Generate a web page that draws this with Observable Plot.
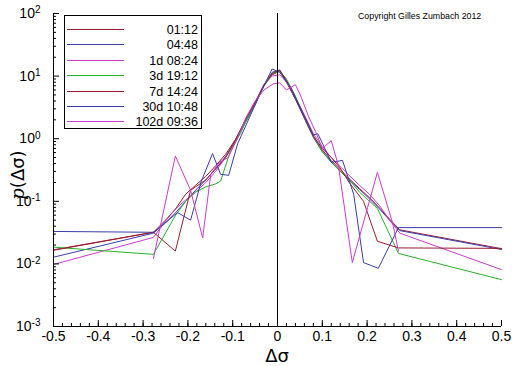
<!DOCTYPE html>
<html><head><meta charset="utf-8">
<script src="https://cdn.jsdelivr.net/npm/d3@7"></script>
<script src="https://cdn.jsdelivr.net/npm/@observablehq/plot@0.6"></script>
<style>body{margin:0;background:#fff;} svg{display:block;}</style>
</head><body><div id="chart"></div>
<script>
// Series names and colours (legend order)
const seriesNames = ["01:12", "04:48", "1d 08:24", "3d 19:12", "7d 14:24", "30d 10:48", "102d 09:36"];
const seriesColors = ["#9b1c2e", "#3c3cac", "#c83cc8", "#28b028", "#9b1c2e", "#3c3cac", "#c83cc8"];

// [Δσ, p(Δσ)]
const d0112 = [[-0.5,0.0168],[-0.277,0.032],[-0.25,0.05],[-0.228,0.075],[-0.205,0.13],[-0.183,0.18],[-0.16,0.25],[-0.138,0.37],[-0.116,0.56],[-0.094,0.97],[-0.072,1.9],[-0.05,3.6],[-0.03,7],[-0.012,10.5],[0.005,12],[0.02,8],[0.04,4.3],[0.06,2.2],[0.08,1.1],[0.1,0.66],[0.12,0.45],[0.14,0.32],[0.16,0.23],[0.183,0.16],[0.205,0.115],[0.228,0.078],[0.25,0.052],[0.273,0.035],[0.5,0.0175]];
const d0448 = [[-0.5,0.0128],[-0.277,0.031],[-0.25,0.045],[-0.228,0.065],[-0.205,0.1],[-0.183,0.15],[-0.16,0.22],[-0.138,0.33],[-0.116,0.52],[-0.094,0.9],[-0.072,1.8],[-0.05,3.5],[-0.03,7.2],[-0.012,11.5],[0.005,12.5],[0.02,8.3],[0.04,4.3],[0.06,2.1],[0.08,1.05],[0.1,0.62],[0.12,0.43],[0.14,0.3],[0.16,0.22],[0.183,0.155],[0.205,0.11],[0.228,0.075],[0.25,0.05],[0.273,0.034],[0.5,0.017]];
const d1d = [[-0.5,0.0098],[-0.277,0.0265],[-0.25,0.048],[-0.228,0.075],[-0.205,0.105],[-0.183,0.14],[-0.16,0.2],[-0.138,0.3],[-0.116,0.5],[-0.094,0.9],[-0.072,1.9],[-0.05,3.8],[-0.03,7.5],[-0.012,10],[0.005,10.5],[0.02,8],[0.04,4.6],[0.06,2.4],[0.08,1.2],[0.1,0.75],[0.12,0.5],[0.14,0.36],[0.16,0.26],[0.183,0.18],[0.205,0.13],[0.228,0.085],[0.25,0.05],[0.273,0.031],[0.5,0.0081]];
const d3d = [[-0.5,0.0185],[-0.277,0.0142],[-0.228,0.059],[-0.205,0.1],[-0.183,0.14],[-0.16,0.17],[-0.138,0.19],[-0.127,0.21],[-0.105,0.64],[-0.083,1.2],[-0.072,1.8],[-0.05,3.5],[-0.03,7],[-0.012,11],[0.005,12],[0.02,9],[0.04,4.8],[0.06,2.2],[0.08,1.1],[0.1,0.62],[0.12,0.42],[0.14,0.3],[0.156,0.24],[0.183,0.14],[0.223,0.077],[0.27,0.0147],[0.5,0.0056]];
const d7d = [[-0.5,0.0165],[-0.277,0.032],[-0.228,0.016],[-0.194,0.15],[-0.16,0.22],[-0.138,0.33],[-0.116,0.5],[-0.094,0.95],[-0.072,2.0],[-0.05,3.8],[-0.03,7.2],[-0.012,11],[0.005,12.5],[0.02,8.5],[0.04,4.5],[0.06,2.2],[0.08,1.1],[0.1,0.7],[0.12,0.5],[0.14,0.34],[0.16,0.2],[0.192,0.1],[0.223,0.023],[0.27,0.018],[0.5,0.0177]];
const d30d = [[-0.5,0.033],[-0.277,0.032],[-0.223,0.066],[-0.194,0.05],[-0.17,0.21],[-0.145,0.58],[-0.127,0.27],[-0.109,0.26],[-0.089,0.83],[-0.06,2.4],[-0.035,6],[-0.012,13],[0.005,11.5],[0.03,6.5],[0.06,2.3],[0.08,1.15],[0.09,1.2],[0.1,0.85],[0.12,0.42],[0.145,0.45],[0.17,0.13],[0.192,0.0105],[0.225,0.0085],[0.27,0.038],[0.5,0.038]];
const d102d = [[-0.277,0.0122],[-0.228,0.53],[-0.194,0.15],[-0.167,0.026],[-0.149,0.27],[-0.13,0.42],[-0.11,0.5],[-0.09,1.0],[-0.07,2.2],[-0.05,4.0],[-0.03,6.0],[-0.01,7.5],[0.005,7.8],[0.02,6.0],[0.04,7.3],[0.052,4.8],[0.07,2.2],[0.085,1.3],[0.1,0.7],[0.12,0.93],[0.136,0.37],[0.167,0.0105],[0.223,0.29],[0.257,0.045],[0.27,0.016]];
const seriesData = [d0112, d0448, d1d, d3d, d7d, d30d, d102d];

// Axis ticks
const xMajor = [-0.5, -0.4, -0.3, -0.2, -0.1, 0, 0.1, 0.2, 0.3, 0.4, 0.5];
const xMinor = d3.range(-50, 51, 2).map(v => v / 100);
const yMajor = [1e-3, 1e-2, 1e-1, 1, 10, 100];
const yMinor = yMajor.slice(0, -1).flatMap(d => [2,3,4,5,6,7,8,9].map(m => m * d));

const rows = seriesData.flatMap((arr, i) => arr.map(([x, p]) => ({x, p, s: seriesNames[i]})));

const plot = Plot.plot({
  width: 512, height: 366,
  marginLeft: 53, marginRight: 11, marginTop: 13, marginBottom: 40,
  style: {fontFamily: "'Liberation Sans', Arial, sans-serif", fontSize: "14px", color: "black", background: "white"},
  x: {domain: [-0.5, 0.5]},
  y: {type: "log", domain: [1e-3, 1e2]},
  color: {domain: seriesNames, range: seriesColors},
  marks: [
    Plot.line(rows, {x: "x", y: "p", z: "s", stroke: "s", strokeWidth: 1}),
    Plot.ruleX([0], {stroke: "black", strokeWidth: 1}),
    Plot.ruleY([1e-3], {stroke: "black", strokeWidth: 1}),
    Plot.ruleX([-0.5], {stroke: "black", strokeWidth: 1}),
    Plot.axisX({ticks: xMinor, tickSize: -3, tickFormat: () => "", label: null}),
    Plot.axisX({ticks: xMajor, tickSize: -6, tickFormat: () => "", label: null}),
    Plot.axisX({ticks: xMajor, tickSize: 0, tickPadding: 5, fontSize: 14, tickFormat: d => d === 0 ? "0" : d.toFixed(1), label: null}),
    Plot.axisY({ticks: yMinor, tickSize: -3, tickFormat: () => "", label: null}),
    Plot.axisY({ticks: yMajor, tickSize: -6, tickFormat: () => "", label: null}),
    Plot.axisY({ticks: yMajor, tickSize: 0, tickPadding: 13, fontSize: 14, tickFormat: d => "10" + Math.round(Math.log10(d)), label: null})
  ]
});
document.getElementById("chart").appendChild(plot);

const svg = d3.select(plot);
// superscript exponents on y tick labels
svg.selectAll('g[aria-label="y-axis tick label"] text').each(function() {
  const t = d3.select(this);
  const txt = t.text();
  if (!txt || txt.length < 3) return;
  const exp = txt.slice(2);
  t.text("");
  t.append("tspan").text("10");
  t.append("tspan").attr("dy", "-0.45em").attr("font-size", "10px").text(exp);
});

// Axis titles
svg.append("text").attr("x", 277).attr("y", 362).attr("text-anchor", "middle")
  .attr("font-size", 18).attr("font-family", "'DejaVu Sans', sans-serif").text("Δσ");
const yt = svg.append("text").attr("transform", "translate(24,175) rotate(-90)").attr("text-anchor", "middle")
  .attr("font-size", 18).attr("font-family", "'DejaVu Sans', sans-serif");
yt.append("tspan").attr("font-style", "italic").attr("font-family", "'DejaVu Serif', serif").text("p");
yt.append("tspan").text("(Δσ)");

// Copyright
svg.append("text").attr("x", 358).attr("y", 19).attr("text-anchor", "start")
  .attr("font-size", 8.8).text("Copyright Gilles Zumbach 2012");

// Legend
const lg = svg.append("g");
lg.append("rect").attr("x", 64.5).attr("y", 15.5).attr("width", 137).attr("height", 113)
  .attr("fill", "white").attr("stroke", "black");
seriesNames.forEach((n, i) => {
  const y = Math.round(29 + i * 15.4) + 0.5;
  lg.append("line").attr("x1", 67).attr("x2", 124).attr("y1", y).attr("y2", y)
    .attr("stroke", seriesColors[i]).attr("stroke-width", 1);
  lg.append("text").attr("x", 198).attr("y", y + 4.5).attr("text-anchor", "end")
    .attr("font-size", 12.5).text(n);
});
</script>
</body></html>
